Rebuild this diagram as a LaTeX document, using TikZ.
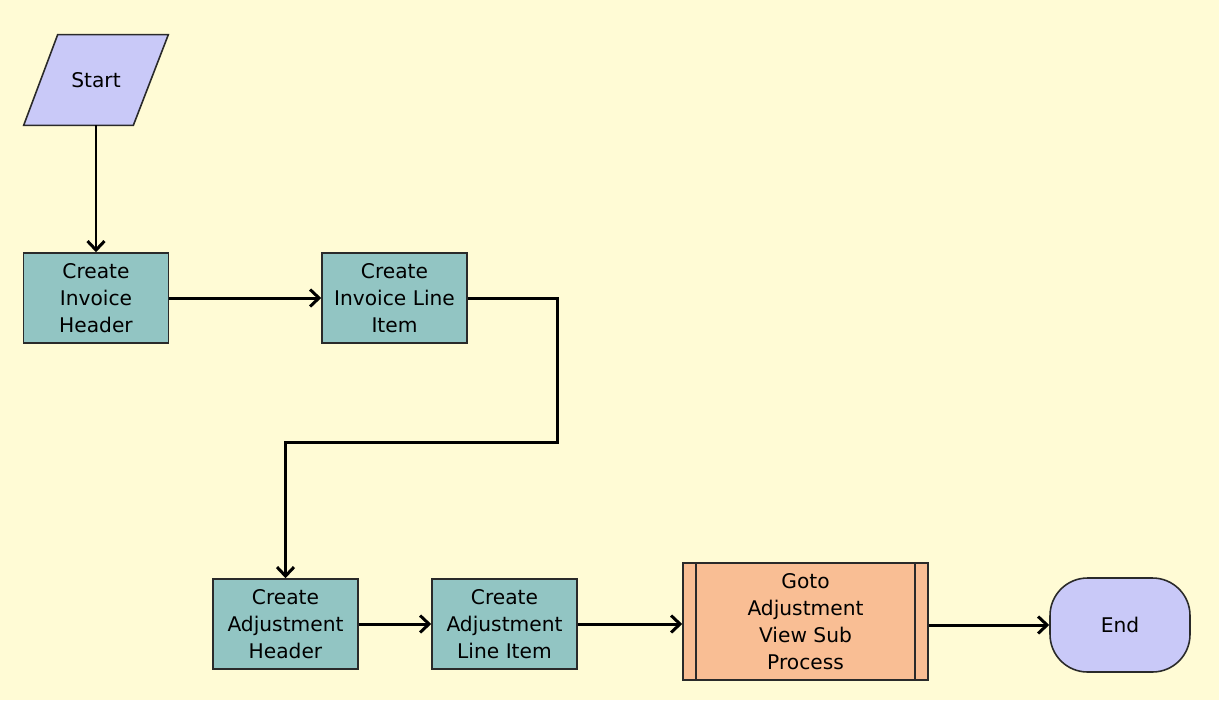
\documentclass[tikz,border=0pt]{standalone}
\usepackage{fontspec}
\setmainfont{DejaVu Sans}
\usetikzlibrary{arrows.meta,calc}
\usepackage{xcolor}
\definecolor{paper}{HTML}{FFFBD5}
\definecolor{edge}{HTML}{2A2A2A}
\definecolor{taskfill}{HTML}{92C5C3}
\definecolor{termfill}{HTML}{C9C9F8}
\definecolor{subfill}{HTML}{F9BE94}
\tikzset{
  label font/.style={font=\fontsize{11.5}{15.3}\selectfont},
  task/.style={draw=edge, line width=0.9pt, fill=taskfill, align=center, label font, minimum width=2.9cm, minimum height=1.8cm, inner sep=1mm},
  subproc/.style={task, fill=subfill, minimum width=4.9cm, minimum height=2.34cm},
  terminal/.style={draw=edge, line width=0.9pt, fill=termfill, label font, rounded corners=0.75cm, minimum width=2.8cm, minimum height=1.88cm},
  arrow/.style={-{Straight Barb[length=1.8mm, width=3.4mm]}, line width=1.7pt, draw=black}
}

\begin{document}
\begin{tikzpicture}[x=0.02cm, y=-0.02cm]
  \useasboundingbox[fill=paper] (0,0) rectangle (1219,700);
  % start block (parallelogram drawn round a plain node)
  \node[label font, minimum width=2.88cm, minimum height=1.8cm, inner sep=0pt] (start) at (96,80) {};
  \draw[draw=edge, line width=0.9pt, fill=termfill]
    ($(start.north west)+(34,0)$) -- (start.north east) -- ($(start.south east)-(35,0)$) -- (start.south west) -- cycle;
  \node[label font] at (start) {Start};
  % invoice steps
  \node[task] (invhead) at (96,298) {Create\\Invoice\\Header};
  \node[task] (invline) at (394.5,298) {Create\\Invoice Line\\Item};
  % adjustment steps
  \node[task] (adjhead) at (285.5,624) {Create\\Adjustment\\Header};
  \node[task] (adjline) at (504.5,624) {Create\\Adjustment\\Line Item};
  \node[subproc] (gotosub) at (805.5,621.5) {Goto\\Adjustment\\View Sub\\Process};
  \draw[draw=edge, line width=0.9pt] ($(gotosub.north west)+(14,0)$) -- ($(gotosub.south west)+(14,0)$);
  \draw[draw=edge, line width=0.9pt] ($(gotosub.north east)-(14,0)$) -- ($(gotosub.south east)-(14,0)$);
  \node[terminal] (finish) at (1120,625) {End};
  \coordinate (bend) at (557,442);
  % connectors
  \draw[arrow] (start.south) -- (invhead.north);
  \draw[arrow] (invhead.east) -- (invline.west);
  \draw[arrow] (invline.east) -| (bend) -| (adjhead.north);
  \draw[arrow] (adjhead.east) -- (adjline.west);
  \draw[arrow] (adjline.east) -- (gotosub.west |- adjline.east);
  \draw[arrow] (gotosub.east |- finish.west) -- (finish.west);
\end{tikzpicture}
\end{document}
